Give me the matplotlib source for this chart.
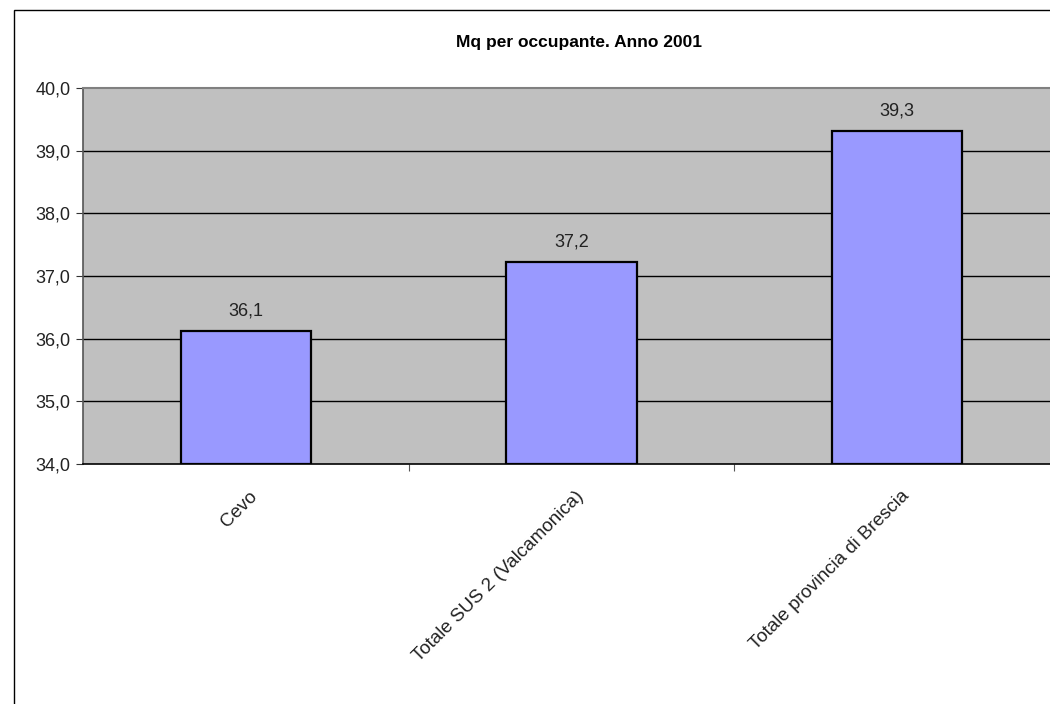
import matplotlib
matplotlib.use('Agg')
import matplotlib.pyplot as plt
from matplotlib.patches import Rectangle

categories = ['Cevo', 'Totale SUS 2 (Valcamonica)', 'Totale provincia di Brescia']
values = [36.12, 37.22, 39.31]
value_labels = ['36,1', '37,2', '39,3']
y_ticks = [34, 35, 36, 37, 38, 39, 40]
title = 'Mq per occupante. Anno 2001'


def fmt(v):
    return f'{v:.1f}'.replace('.', ',')


def main():
    plt.rcParams['font.family'] = ['Liberation Sans', 'DejaVu Sans']
    W, H = 1050, 704
    fig = plt.figure(figsize=(W / 100, H / 100), dpi=100)

    # outer chart border (Excel chart area)
    fig.patches.append(Rectangle((14 / W, -0.5), 2, 1.5 - 10 / H, transform=fig.transFigure,
                                 fill=False, edgecolor='black', linewidth=1.0))

    left, right, top, bottom = 83, 1060, 88, 464
    ax = fig.add_axes([left / W, 1 - bottom / H, (right - left) / W, (bottom - top) / H])
    ax.set_facecolor('#C0C0C0')

    x = list(range(len(categories)))
    ax.set_ylim(34, 40)
    ax.set_xlim(-0.5, len(categories) - 0.5)
    ax.set_yticks(y_ticks)
    ax.set_yticklabels([fmt(v) for v in y_ticks], fontsize=13, color='#222222')
    for yv in y_ticks[1:-1]:
        ax.axhline(yv, color='black', linewidth=1.0, zorder=1)

    ax.bar(x, [v - 34 for v in values], bottom=34, width=0.4, color='#9999FF',
           edgecolor='black', linewidth=1.6, zorder=2)
    for xi, v, lab in zip(x, values, value_labels):
        ax.annotate(lab, (xi, v), xytext=(0, 12), textcoords='offset pixels',
                    ha='center', va='bottom', fontsize=13, color='#222222')

    ax.set_xticks([0.5, 1.5])
    ax.set_xticklabels([])
    ax.set_xticks([xi + 0.01 for xi in x], minor=True)
    ax.set_xticklabels(categories, minor=True, rotation=45, ha='right', va='top',
                       rotation_mode='anchor', fontsize=13.5, color='#222222')
    ax.tick_params(axis='x', which='minor', length=0, pad=17)
    ax.tick_params(axis='x', which='major', length=5, direction='out', color='#555555')
    ax.tick_params(axis='y', length=5, direction='out', color='#333333', pad=4)

    ax.spines['top'].set_color('#808080')
    ax.spines['top'].set_linewidth(1.5)
    ax.spines['right'].set_visible(False)
    ax.spines['left'].set_color('#555555')
    ax.spines['left'].set_linewidth(1.2)
    ax.spines['bottom'].set_color('black')
    ax.spines['bottom'].set_linewidth(1.2)

    fig.text(579 / W, 1 - 42 / H, title, ha='center', va='center', fontsize=12.5,
             fontweight='bold', color='black')

    fig.savefig('out.png', dpi=100)


if __name__ == '__main__':
    main()
